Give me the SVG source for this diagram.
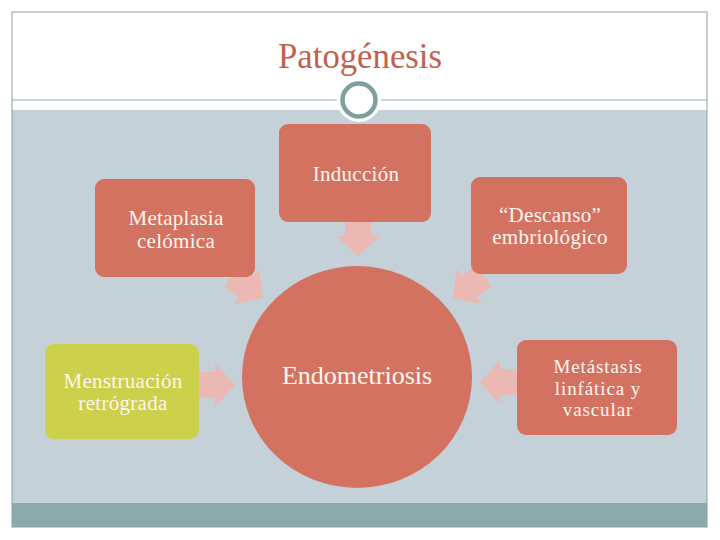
<svg xmlns="http://www.w3.org/2000/svg" width="720" height="540" viewBox="0 0 720 540">
<style>
.box{fill:#d47262;}
.lbl{font-family:"Liberation Serif",serif;font-size:21px;fill:#fdf6ee;text-anchor:middle;letter-spacing:0.3px;}
.sm{font-size:19px;letter-spacing:0.9px;}
.arr{fill:#ebb8b3;}
</style>
<defs>
<polygon id="ah" points="0,0 -20,-22 -20,-13 -38,-13 -38,13 -20,13 -20,22"/>
</defs>
<rect x="0" y="0" width="720" height="540" fill="#ffffff"/>
<rect x="12" y="110" width="695" height="393" fill="#c5d1d8"/>
<rect x="12" y="503" width="695" height="24" fill="#8aabab"/>
<rect x="12" y="12" width="695" height="515" fill="none" stroke="#8c9ea3" stroke-width="1"/>
<line x1="12" y1="100" x2="707" y2="100" stroke="#9aabb0" stroke-width="1"/>
<circle cx="359" cy="100" r="22" fill="#ffffff"/>
<circle cx="359" cy="100" r="16.5" fill="#ffffff" stroke="#7f9e9e" stroke-width="4.5"/>
<text x="360" y="68" font-family="'Liberation Serif',serif" font-size="36" fill="#c0604f" text-anchor="middle" textLength="164" lengthAdjust="spacingAndGlyphs">Patogénesis</text>

<g id="connectors">
<use href="#ah" class="arr" transform="translate(358,256) rotate(90)"/>
<use href="#ah" class="arr" transform="translate(263,298) rotate(35)"/>
<use href="#ah" class="arr" transform="translate(453,298) rotate(145)"/>
<use href="#ah" class="arr" transform="translate(235,385)"/>
<use href="#ah" class="arr" transform="translate(480,382) rotate(180)"/>
</g>

<g id="induccion">
<rect class="box" x="279" y="124" width="152" height="98" rx="9"/>
<text class="lbl" x="356" y="181">Inducción</text>
</g>
<g id="metaplasia">
<rect class="box" x="95" y="179" width="160" height="98" rx="9"/>
<text class="lbl" x="176" y="225">Metaplasia</text>
<text class="lbl" x="176" y="248">celómica</text>
</g>
<g id="descanso">
<rect class="box" x="471" y="177" width="156" height="97" rx="9"/>
<text class="lbl" x="550" y="222">“Descanso”</text>
<text class="lbl" x="550" y="244">embriológico</text>
</g>
<g id="menstruacion">
<rect x="45" y="344" width="154" height="95" rx="9" fill="#cdd04b"/>
<text class="lbl" x="123" y="388">Menstruación</text>
<text class="lbl" x="123" y="410">retrógrada</text>
</g>
<g id="metastasis">
<rect class="box" x="517" y="340" width="160" height="95" rx="9"/>
<text class="lbl sm" x="598" y="373">Metástasis</text>
<text class="lbl sm" x="598" y="394.5">linfática y</text>
<text class="lbl sm" x="598" y="416">vascular</text>
</g>
<g id="endometriosis">
<ellipse class="box" cx="357" cy="377" rx="115" ry="111"/>
<text x="357" y="384" font-family="'Liberation Serif',serif" font-size="26" fill="#fdf6ee" text-anchor="middle">Endometriosis</text>
</g>
</svg>
